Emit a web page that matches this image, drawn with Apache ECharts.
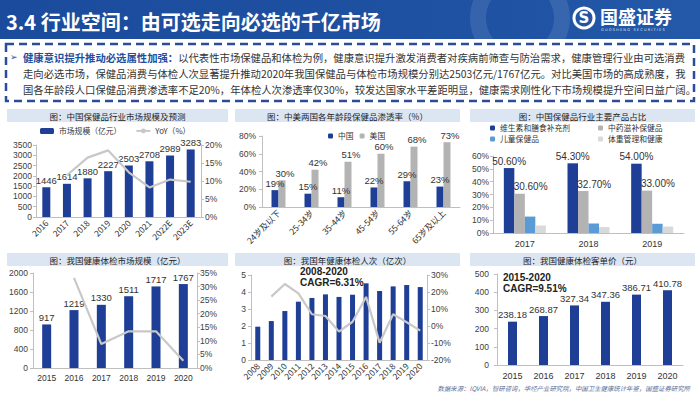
<!DOCTYPE html>
<html><head><meta charset="utf-8">
<script src="https://cdn.jsdelivr.net/npm/echarts@6/dist/echarts.min.js"></script>
<style>html,body{margin:0;padding:0;background:#fff;overflow:hidden}#c{width:700px;height:394px}</style>
</head><body><div id="c"></div>
<script>
// ---------- data ----------
const c1Years = ['2016','2017','2018','2019','2020','2021','2022E','2023E'];
const c1Size  = [1446,1614,1880,2227,2503,2708,2989,3283];
const c1Yoy   = [null,11.6,16.5,18.5,12.4,8.2,10.4,9.8];

const c2Ages  = ['24岁及以下','25-34岁','35-44岁','45-54岁','55-64岁','65岁及以上'];
const c2China = [19,15,11,22,29,23];
const c2US    = [30,42,51,60,68,73];

const c3Years  = ['2017','2018','2019'];
const c3Vit    = [50.6,54.3,54.0];
const c3Tcm    = [30.6,32.7,33.0];
const c3Kids   = [12.8,7.4,7.2];
const c3Weight = [5.8,4.6,5.0];

const c4Years = ['2015','2016','2017','2018','2019','2020'];
const c4Size  = [917,1219,1330,1511,1717,1767];
const c4Yoy   = [null,33.2,8.8,13.5,13.5,2.7];

const c5Years  = ['2008','2009','2010','2011','2012','2013','2014','2015','2016','2017','2018','2019','2020'];
const c5Visits = [1.96,2.29,2.88,3.43,3.65,3.86,3.71,3.84,4.51,4.06,4.33,4.41,4.29];
const c5Yoy    = [null,17.3,24.7,19.2,6.9,5.9,-3.3,2.5,17.1,-9.8,6.9,2.2,-2.7];

const c6Years = ['2015','2016','2017','2018','2019','2020'];
const c6Price = [238.18,268.87,327.34,347.36,386.71,410.78];

const c1Ticks = {min:0,max:3500,interval:500};
const c1RTicks = {min:0,max:20,interval:5};
const c2Ticks = {min:0,max:80,interval:20};
const c3Ticks = {min:0,max:60,interval:10};
const c4Ticks = {min:0,max:2000,interval:400};
const c4RTicks = {min:0,max:35,interval:5};
const c5Ticks = {min:0,max:5,interval:1};
const c5RTicks = {min:-20,max:30,interval:10};
const c6Ticks = {min:0,max:500,interval:100};

// ---------- styles ----------
const BLUE = '#1f3e96', GRAY = '#b3b3b3', LBLUE = '#5b9bd5', LGRAY = '#d9d9d9', LINE = '#c8c8c8';
const NUMF = '"Liberation Sans", Arial, sans-serif';
const CJK = '"Noto Sans CJK SC", sans-serif';
const axisLineS = {show:true, lineStyle:{color:'#bfbfbf', width:1}};
const tickS = {show:true, length:3, lineStyle:{color:'#bfbfbf'}};
const plain = v => String(v);
const ylab = (m, fmt) => ({fontSize:8.5, color:'#404040', fontFamily:NUMF, margin:m, formatter:fmt || plain});
const grids = [
  {left:36, top:145, width:165, height:72},
  {left:262, top:136, width:198, height:71},
  {left:493, top:156, width:191, height:77},
  {left:33, top:273, width:164, height:95},
  {left:251, top:275, width:176, height:85},
  {left:497, top:274, width:186, height:91}
];
function xa(gi, data, rot, extra) {
  return Object.assign({type:'category', gridIndex:gi, data:data, axisLine:axisLineS, axisTick:{show:false},
    axisLabel:{fontSize:8.5, color:'#333', fontFamily: rot ? CJK : NUMF, rotate:rot||0, margin:4, interval:0}}, extra||{});
}
function ya(gi, t, pos, m, fmt) {
  return {type:'value', gridIndex:gi, position:pos, min:t.min, max:t.max, interval:t.interval,
    splitLine:{show:false}, axisLine:axisLineS, axisTick:tickS, axisLabel:ylab(m, fmt)};
}
const pct = v => v + '%';
const lab = (fs, fmt, extra) => Object.assign({show:true, position:'top', distance:2, fontSize:fs, color:'#333', fontFamily:NUMF, formatter:fmt}, extra||{});

const titleBars = [
  {x:7, y:109, w:221, t:'图：中国保健品行业市场规模及预测'},
  {x:235, y:109, w:225, t:'图：中美两国各年龄段保健品渗透率（%）'},
  {x:470, y:109, w:225, t:'图：中国保健品行业主要产品占比'},
  {x:7, y:253, w:221, t:'图：我国健康体检市场规模（亿元）'},
  {x:235, y:253, w:225, t:'图：我国年健康体检人次（亿次）'},
  {x:470, y:253, w:225, t:'图：我国健康体检客单价（元）'}
];
const PF = 10.35;
const graphics = [
  {type:'rect', shape:{x:0,y:0,width:700,height:39}, style:{fill:new echarts.graphic.LinearGradient(0,0,1,0,[{offset:0,color:'#1b4b9c'},{offset:0.7,color:'#1f52a3'},{offset:1,color:'#2458a8'}])}, silent:true},
  {type:'circle', shape:{cx:520, cy:18, r:42}, style:{fill:'none', stroke:'rgba(255,255,255,0.10)', lineWidth:16}, silent:true},
  {type:'text', style:{x:6, y:21, text:'3.4 行业空间：由可选走向必选的千亿市场', fill:'#fff', font:'bold 20px "Noto Sans CJK SC"', textVerticalAlign:'middle'}},
  {type:'circle', shape:{cx:584, cy:18, r:10}, style:{fill:'none', stroke:'#fff', lineWidth:3}},
  {type:'text', style:{x:584, y:18, text:'S', fill:'#fff', font:'bold 15px "DejaVu Sans"', textAlign:'center', textVerticalAlign:'middle'}},
  {type:'text', style:{x:600, y:16, text:'国盛证券', fill:'#fff', font:'bold 18px "Noto Sans CJK SC"', textVerticalAlign:'middle'}},
  {type:'text', style:{x:601, y:30, text:'G U O S H E N G   S E C U R I T I E S', fill:'#dfe8f5', font:'3.6px "DejaVu Sans"', textVerticalAlign:'middle'}},
  {type:'rect', shape:{x:6, y:44, width:688, height:57}, style:{fill:'none', stroke:'#2b4c9b', lineWidth:2.5, lineDash:[8,5]}},
  {type:'text', style:{x:10, y:57, text:'➢', fill:'#2b4c9b', font:'9px "DejaVu Sans"', textVerticalAlign:'middle'}},
  {type:'text', style:{x:23, y:57, textVerticalAlign:'middle',
    text:'{b|健康意识提升推动必选属性加强：}{n|以代表性市场保健品和体检为例，健康意识提升激发消费者对疾病前筛查与防治需求，健康管理行业由可选消费}',
    rich:{b:{fill:'#1f4e9c', fontWeight:'bold', fontSize:PF, fontFamily:'"Noto Sans CJK SC"'}, n:{fill:'#333', fontSize:PF, fontFamily:'"Noto Sans CJK SC"'}}}},
  {type:'text', style:{x:23, y:73, text:'走向必选市场，保健品消费与体检人次显著提升推动2020年我国保健品与体检市场规模分别达2503亿元/1767亿元。对比美国市场的高成熟度，我', fill:'#333', font:PF + 'px "Noto Sans CJK SC"', textVerticalAlign:'middle'}},
  {type:'text', style:{x:23, y:89, text:'国各年龄段人口保健品消费渗透率不足20%，年体检人次渗透率仅30%，较发达国家水平差距明显，健康需求刚性化下市场规模提升空间日益广阔。', fill:'#333', font:PF + 'px "Noto Sans CJK SC"', textVerticalAlign:'middle'}},
  {type:'text', style:{x:300, y:277, text:'2008-2020\nCAGR=6.31%', fill:'#222', font:'bold 10px "Liberation Sans"', textVerticalAlign:'middle', lineHeight:11}},
  {type:'text', style:{x:503, y:283, text:'2015-2020\nCAGR=9.51%', fill:'#222', font:'bold 10px "Liberation Sans"', textVerticalAlign:'middle', lineHeight:11}},
  {type:'text', style:{x:690, y:388, text:'数据来源：IQVIA，智研咨询，华经产业研究院，中国卫生健康统计年鉴，国盛证券研究所', fill:'#5a6f9a', font:'italic 6.4px "Noto Sans CJK SC"', textAlign:'right', textVerticalAlign:'middle'}}
];
titleBars.forEach(b => {
  graphics.push({type:'rect', shape:{x:b.x, y:b.y, width:b.w, height:13}, style:{fill:'#dce6f2'}, silent:true});
  graphics.push({type:'text', style:{x:b.x + b.w/2, y:b.y + 6.5, text:b.t, fill:'#222', font:'8.5px "Noto Sans CJK SC"', textAlign:'center', textVerticalAlign:'middle'}});
});

const legTxt = {fontSize:7.8, color:'#333', fontFamily:CJK};
const option = {
  animation:false,
  backgroundColor:'#fff',
  grid: grids.map(g => Object.assign({containLabel:false}, g)),
  xAxis: [
    xa(0, c1Years, 45),
    xa(1, c2Ages, 45),
    xa(2, c3Years, 0, {axisLabel:{fontSize:9, color:'#333', fontFamily:NUMF, margin:6}}),
    xa(3, c4Years, 0, {axisLabel:{fontSize:8.5, color:'#333', fontFamily:NUMF, margin:5}}),
    xa(4, c5Years, 45),
    xa(5, c6Years, 0, {axisLabel:{fontSize:9, color:'#333', fontFamily:NUMF, margin:6}})
  ],
  yAxis: [
    ya(0, c1Ticks, 'left', 4),
    ya(0, c1RTicks, 'right', 4, pct),
    ya(1, c2Ticks, 'left', 6, pct),
    ya(2, c3Ticks, 'left', 4, pct),
    ya(3, c4Ticks, 'left', 5),
    ya(3, c4RTicks, 'right', 3, pct),
    ya(4, c5Ticks, 'left', 5),
    ya(4, c5RTicks, 'right', 4, pct),
    ya(5, c6Ticks, 'left', 8)
  ],
  legend: [
    {data:['市场规模（亿元）','YoY（%）'], left:40, top:127, itemWidth:14, itemHeight:6, itemGap:14, textStyle:legTxt, selectedMode:false, padding:0},
    {data:['中国','美国'], left:328, top:132, itemWidth:5, itemHeight:5, itemGap:6, textStyle:legTxt, selectedMode:false, padding:0},
    {data:['维生素和膳食补充剂'], left:490, top:124, itemWidth:5, itemHeight:5, textStyle:legTxt, selectedMode:false, padding:0},
    {data:['中药滋补保健品'], left:598, top:124, itemWidth:5, itemHeight:5, textStyle:legTxt, selectedMode:false, padding:0},
    {data:['儿童保健品'], left:490, top:135, itemWidth:5, itemHeight:5, textStyle:legTxt, selectedMode:false, padding:0},
    {data:['体重管理和健康'], left:598, top:135, itemWidth:5, itemHeight:5, textStyle:legTxt, selectedMode:false, padding:0}
  ],
  series: [
    {name:'市场规模（亿元）', type:'bar', xAxisIndex:0, yAxisIndex:0, data:c1Size, barWidth:8, itemStyle:{color:BLUE}, label:lab(9.5)},
    {name:'YoY（%）', type:'line', xAxisIndex:0, yAxisIndex:1, data:c1Yoy, symbol:'none', lineStyle:{color:LINE, width:2.2}, itemStyle:{color:LINE}},
    {name:'中国', type:'bar', xAxisIndex:1, yAxisIndex:2, data:c2China, barWidth:7, barGap:'0%', itemStyle:{color:BLUE}, label:lab(9.5, '{c}%')},
    {name:'美国', type:'bar', xAxisIndex:1, yAxisIndex:2, data:c2US, barWidth:7, barGap:'0%', itemStyle:{color:GRAY}, label:lab(9.5, '{c}%', {offset:[3,0]})},
    {name:'维生素和膳食补充剂', type:'bar', xAxisIndex:2, yAxisIndex:3, data:c3Vit, barWidth:10.5, barGap:'0%', itemStyle:{color:BLUE}, label:lab(10, p => p.value.toFixed(2)+'%')},
    {name:'中药滋补保健品', type:'bar', xAxisIndex:2, yAxisIndex:3, data:c3Tcm, barWidth:10.5, barGap:'0%', itemStyle:{color:GRAY}, label:lab(10, p => p.value.toFixed(2)+'%', {offset:[11,0]})},
    {name:'儿童保健品', type:'bar', xAxisIndex:2, yAxisIndex:3, data:c3Kids, barWidth:10.5, barGap:'0%', itemStyle:{color:LBLUE}},
    {name:'体重管理和健康', type:'bar', xAxisIndex:2, yAxisIndex:3, data:c3Weight, barWidth:10.5, barGap:'0%', itemStyle:{color:LGRAY}},
    {name:'体检市场规模', type:'bar', xAxisIndex:3, yAxisIndex:4, data:c4Size, barWidth:9, itemStyle:{color:BLUE}, label:lab(9.5)},
    {name:'体检市场增速', type:'line', xAxisIndex:3, yAxisIndex:5, data:c4Yoy, symbol:'none', lineStyle:{color:LINE, width:2.2}},
    {name:'体检人次', type:'bar', xAxisIndex:4, yAxisIndex:6, data:c5Visits, barWidth:5, itemStyle:{color:BLUE}},
    {name:'体检人次增速', type:'line', xAxisIndex:4, yAxisIndex:7, data:c5Yoy, symbol:'none', lineStyle:{color:LINE, width:2.2}},
    {name:'客单价', type:'bar', xAxisIndex:5, yAxisIndex:8, data:c6Price, barWidth:9, itemStyle:{color:BLUE}, label:lab(9.5, p => p.value.toFixed(2))}
  ],
  graphic: graphics
};
const chart = echarts.init(document.getElementById('c'), null, {renderer:'svg', width:700, height:394});
chart.setOption(option);
</script>
</body></html>
